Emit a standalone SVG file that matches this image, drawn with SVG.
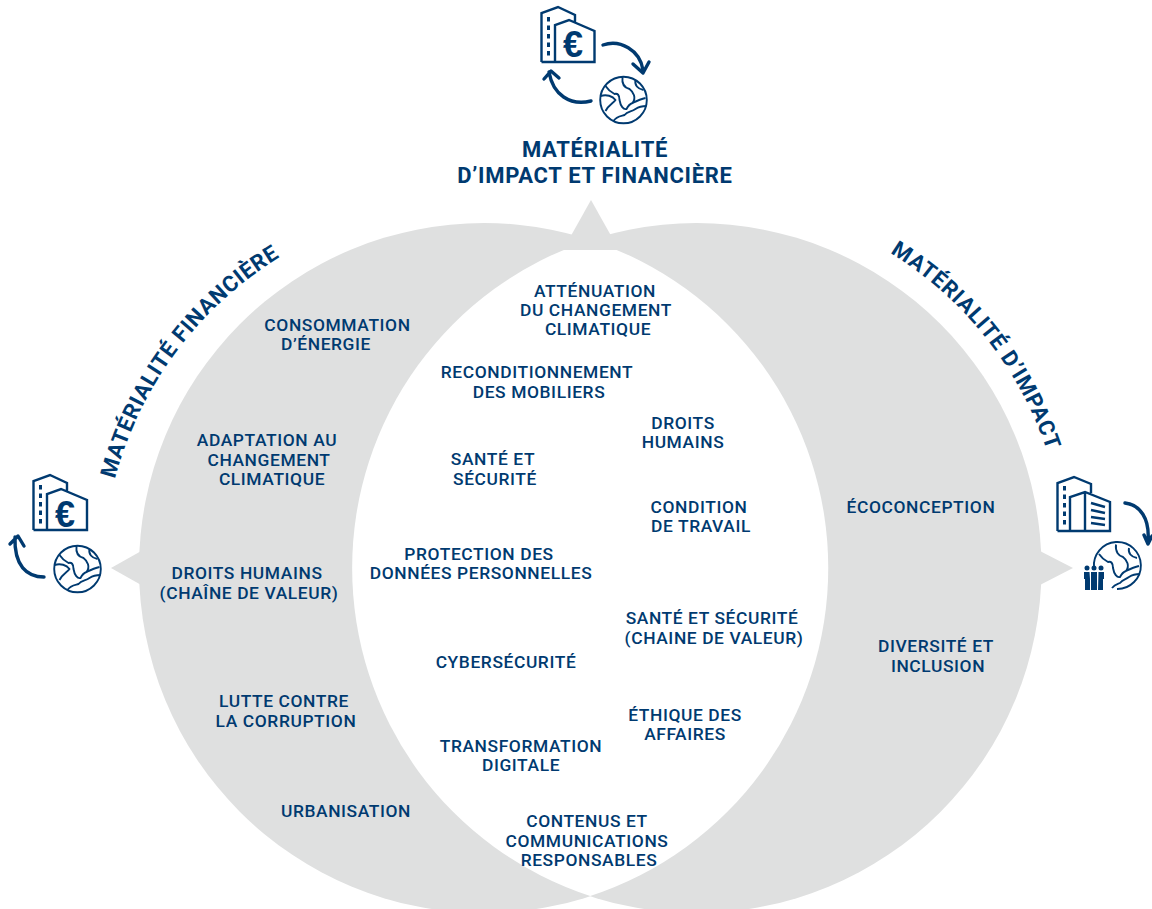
<svg xmlns="http://www.w3.org/2000/svg" width="1152" height="909" viewBox="0 0 1152 909">
<style>
text{font-family:Roboto,"Liberation Sans",sans-serif;fill:#003a70;font-weight:500;text-anchor:middle}
.l{font-size:17.4px;letter-spacing:.6px}
.h{font-size:22px;font-weight:700;letter-spacing:.7px}
.c{font-size:22px;font-weight:700;letter-spacing:.7px;text-anchor:start}
.g{fill:#dfe0e0}
.i{fill:none;stroke:#003a70;stroke-width:2.4;stroke-linejoin:miter}
.a{fill:none;stroke:#003a70;stroke-width:3.4;stroke-linecap:round;stroke-linejoin:round}
.w{fill:none;stroke:#003a70;stroke-width:1.9;stroke-linejoin:round}
.d{fill:none;stroke:#003a70;stroke-width:3;stroke-dasharray:4.5 4}
.e{font-size:36px;font-weight:700;font-family:"Liberation Sans",sans-serif}
</style>
<defs>
<path id="pl" d="M115,479 A372,372 0 0 1 292,250"/>
<path id="pr" d="M890,253 A370,370 0 0 1 1066,568"/>
<g id="land">
<path class="w" d="M-1,-23C-2,-15 2,-12 6,-11C10,-8 13,-2 9,3C6,4 4,7 3,9C0,10-3,6-4,0C-4,-5-6,-7-9,-6C-13,-8-16,-11-18,-14"/>
<path class="w" d="M9,3C13,1 17,-1 22,-2"/>
<path class="w" d="M-23,-4C-17,-6-11,-4-8,0C-10,3-15,5-18,11"/>
<path class="w" d="M-10,21C-7,16-2,16 1,15C4,11 8,12 12,9C15,7 19,6 23,6"/>
<path class="w" d="M12,-20C11,-15 14,-11 20,-10"/>
</g>
<g id="globe">
<circle cx="0" cy="0" r="23.300" class="w"/>
<use href="#land"/>
</g>
</defs>

<g id="venn">
<circle class="g" cx="484" cy="568" r="345"/>
<circle class="g" cx="696.500" cy="568" r="345"/>
<path fill="#fff" d="M590.200,240 A345,345 0 0 1 590.200,896 A345,345 0 0 1 590.200,240Z"/>
<polygon class="g" points="591,200 563,250 619,250"/>
<polygon class="g" points="111,568 143,550 143,586"/>
<polygon class="g" points="1073,568 1038,550 1038,586"/>
</g>

<g id="icon-top">
<path class="i" d="M541.500,62 V13 L558,7 L575,15 V23 M541.500,62 H594.500 V31 L569,20 L555,25 V62"/>
<path class="d" d="M548.500,17 V56"/>
<text class="e" x="573" y="57">€</text>
<path class="a" d="M603,45C620,39 640,50 643,70M633,64L643,73L649,62"/>
<path class="a" d="M591,101C570,106 553,95 549,72M544,79L551,71L559,78"/>
<use href="#globe" x="623.500" y="100"/>
</g>
<g id="icon-left">
<path class="i" d="M33.500,530 V481 L50,475 L67,483 V491 M33.500,530 H87 V500 L61,489 L47,494 V530"/>
<path class="d" d="M40.500,485 V524"/>
<text class="e" x="65" y="527">€</text>
<path class="a" d="M44,577C27,577 14,566 15,537M10,544L18,536L24,546"/>
<use href="#globe" x="77.500" y="569"/>
</g>
<g id="icon-right">
<path class="i" d="M1057.500,531 V483 L1074,477 L1091,484 V493 M1057.500,531 H1110 V502 L1085,492 L1070,497 V531 M1085,492 V531"/>
<path class="d" d="M1064.500,486 V526"/>
<path fill="none" stroke="#003a70" stroke-width="2.400" d="M1091,503L1105,507M1091,510L1105,513M1091,517L1105,519M1091,523L1105,525"/>
<path class="a" d="M1125,503C1140,505 1150,518 1148,542M1144,535L1148,544L1152,536"/>
<path class="w" d="M1094,568A23.500,23.500 0 1 1 1117,589"/>
<path class="w" d="M1116,544.500C1115,552 1119,556 1123,557C1127,560 1130,566 1126,571C1123,572 1121,575 1120,577C1117,578 1114,574 1113,568C1113,563 1111,561 1108,562C1104,560 1101,557 1099,554M1126,571C1130,569 1134,567 1139,566M1112,588C1115,584 1118,584 1120,583C1123,579 1125,580 1129,577C1132,575 1136,574 1140,574"/>
<path class="w" d="M1129,548C1128,553 1131,557 1137,558"/>
<g fill="#003a70"><circle cx="1087" cy="568" r="2.500"/><circle cx="1094" cy="568" r="2.500"/><circle cx="1101" cy="568" r="2.500"/><path d="M1084,572h5.500l.5,7v11h-5v-11h-1zM1091,572h6v18h-6zM1098.500,572h5.500v7h-1v11h-5z"/></g>
</g>

<g id="titles">
<text class="h" x="595" y="157">MATÉRIALITÉ</text>
<text class="h" x="595" y="183">D’IMPACT ET FINANCIÈRE</text>
<text class="c"><textPath href="#pl">MATÉRIALITÉ FINANCIÈRE</textPath></text>
<text class="c"><textPath href="#pr">MATÉRIALITÉ D’IMPACT</textPath></text>
</g>

<g id="labels-left" transform="translate(0,-.5)">
<text class="l" x="337.500" y="331">CONSOMMATION</text><text class="l" x="326" y="350">D’ÉNERGIE</text>
<text class="l" x="267" y="446">ADAPTATION AU</text><text class="l" x="269" y="466">CHANGEMENT</text><text class="l" x="272" y="485">CLIMATIQUE</text>
<text class="l" x="247" y="579">DROITS HUMAINS</text><text class="l" x="249" y="599">(CHAÎNE DE VALEUR)</text>
<text class="l" x="284" y="707">LUTTE CONTRE</text><text class="l" x="286" y="727">LA CORRUPTION</text>
<text class="l" x="346" y="817">URBANISATION</text>
</g>
<g id="labels-center" transform="translate(0,-.5)">
<text class="l" x="595" y="297">ATTÉNUATION</text><text class="l" x="596" y="316">DU CHANGEMENT</text><text class="l" x="598" y="335">CLIMATIQUE</text>
<text class="l" x="537" y="378">RECONDITIONNEMENT</text><text class="l" x="539" y="398">DES MOBILIERS</text>
<text class="l" x="683" y="429">DROITS</text><text class="l" x="683" y="448">HUMAINS</text>
<text class="l" x="493" y="465">SANTÉ ET</text><text class="l" x="495" y="485">SÉCURITÉ</text>
<text class="l" x="699" y="513">CONDITION</text><text class="l" x="701" y="532">DE TRAVAIL</text>
<text class="l" x="479" y="560">PROTECTION DES</text><text class="l" x="481" y="579">DONNÉES PERSONNELLES</text>
<text class="l" x="712" y="624">SANTÉ ET SÉCURITÉ</text><text class="l" x="714" y="644">(CHAINE DE VALEUR)</text>
<text class="l" x="506" y="668">CYBERSÉCURITÉ</text>
<text class="l" x="685" y="721">ÉTHIQUE DES</text><text class="l" x="685" y="740">AFFAIRES</text>
<text class="l" x="521" y="752">TRANSFORMATION</text><text class="l" x="521" y="771">DIGITALE</text>
<text class="l" x="587" y="827">CONTENUS ET</text><text class="l" x="587" y="847">COMMUNICATIONS</text><text class="l" x="589" y="866">RESPONSABLES</text>
</g>
<g id="labels-right" transform="translate(0,-.5)">
<text class="l" x="921" y="513">ÉCOCONCEPTION</text>
<text class="l" x="936" y="652">DIVERSITÉ ET</text><text class="l" x="938" y="672">INCLUSION</text>
</g>
</svg>
